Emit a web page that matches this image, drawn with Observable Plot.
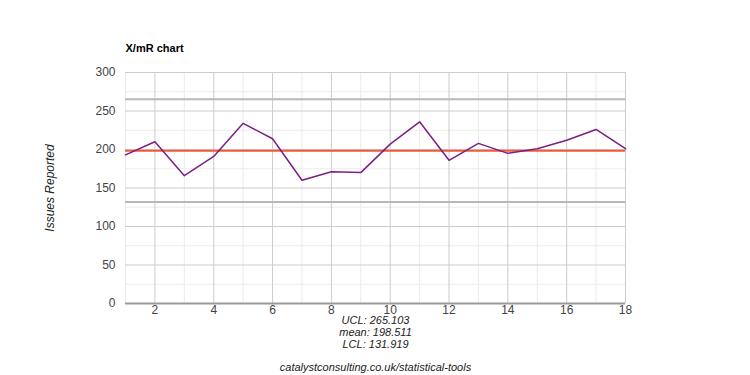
<!DOCTYPE html>
<html><head><meta charset="utf-8">
<script src="https://cdn.jsdelivr.net/npm/d3@7"></script>
<script src="https://cdn.jsdelivr.net/npm/@observablehq/plot@0.6"></script>
<style>body{margin:0;background:#fff}svg{display:block}</style>
</head><body><div id="chart"></div>
<script>
const points = [1,2,3,4,5,6,7,8,9,10,11,12,13,14,15,16,17,18];
const issues = [193,210,166,191,234,214,160,171,170,207,236,186,208,195,201,212,226,201];
const ucl = 265.103, mean = 198.511, lcl = 131.919;
const xTicks = [2,4,6,8,10,12,14,16,18];
const yTicks = [0,50,100,150,200,250,300];
const statLines = ["UCL: 265.103","mean: 198.511","LCL: 131.919"];
const title = "X/mR chart";
const yLabel = "Issues Reported";
const source = "catalystconsulting.co.uk/statistical-tools";

const data = points.map((p,i)=>({p, v: issues[i]}));
const majorX = points.filter(p=>p%2===0);
const minorX = points.filter(p=>p%2===1);
const majorY = yTicks;
const minorY = [25,75,125,175,225,275];

const txt = {fontStyle: "italic", fontSize: 11, fill: "#222"};

const chart = Plot.plot({
  width: 750, height: 375,
  marginLeft: 125, marginRight: 125, marginTop: 72, marginBottom: 72,
  style: {fontFamily: "Arial, 'Liberation Sans', sans-serif", fontSize: "12px", color: "#444", background: "#fff"},
  x: {domain: [1,18]},
  y: {domain: [0,300]},
  marks: [
    Plot.ruleX(minorX, {stroke: "#ebebeb", strokeWidth: 1}),
    Plot.ruleY(minorY, {stroke: "#ebebeb", strokeWidth: 1}),
    Plot.ruleX(majorX, {stroke: "#cccccc", strokeWidth: 1}),
    Plot.ruleY(majorY, {stroke: "#cccccc", strokeWidth: 1}),
    Plot.ruleY([0], {stroke: "#999", strokeWidth: 2}),
    Plot.ruleY([ucl, lcl], {stroke: "#b8b8b8", strokeWidth: 2}),
    Plot.ruleY([mean], {stroke: "#ef5a3a", strokeWidth: 2}),
    Plot.line(data, {x: "p", y: "v", stroke: "#7b1f83", strokeWidth: 1.5}),
    Plot.axisX({ticks: xTicks, tickSize: 0, tickPadding: 2, label: null, fontSize: 12}),
    Plot.axisY({ticks: yTicks, tickSize: 0, tickPadding: 10, label: null, fontSize: 12}),
    Plot.text([title], {frameAnchor: "top-left", dy: -28, textAnchor: "start", fontWeight: "bold", fontSize: 11, fill: "#000"}),
    Plot.text([yLabel], {frameAnchor: "left", dx: -75, rotate: -90, textAnchor: "middle", ...txt, fontSize: 12}),
    Plot.text([statLines[0]], {frameAnchor: "bottom", dy: 20, ...txt}),
    Plot.text([statLines[1]], {frameAnchor: "bottom", dy: 32, ...txt}),
    Plot.text([statLines[2]], {frameAnchor: "bottom", dy: 44, ...txt}),
    Plot.text([source], {frameAnchor: "bottom", dy: 67, ...txt})
  ]
});
document.getElementById("chart").append(chart);
</script></body></html>
